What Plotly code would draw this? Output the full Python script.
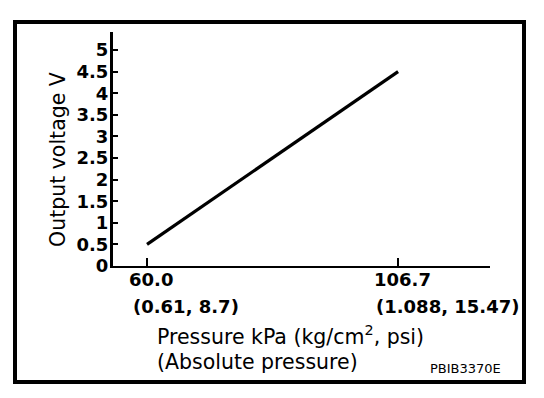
import plotly.graph_objects as go

# ---- data ----
pressure_kpa = [60.0, 106.7]
output_voltage = [0.5, 4.5]
y_ticks = [0, 0.5, 1, 1.5, 2, 2.5, 3, 3.5, 4, 4.5, 5]
y_tick_text = ["0", "0.5", "1", "1.5", "2", "2.5", "3", "3.5", "4", "4.5", "5"]
x_ticks = [60.0, 106.7]
x_label_line1 = ["60.0", "106.7"]
x_label_line2 = ["(0.61, 8.7)", "(1.088, 15.47)"]
y_title = "Output voltage V"
x_title_1 = "Pressure kPa (kg/cm<sup>2</sup>, psi)"
x_title_2 = "(Absolute pressure)"
code_text = "PBIB3370E"

# ---- layout geometry (pixels) ----
W, H = 544, 398
L, R, T, B = 113, 490, 32, 266
pw, ph = R - L, B - T


def px(x):
    return (x - L) / pw


def py(y):
    return (B - y) / ph


FONT = "DejaVu Sans"
BOLD = dict(family=FONT, size=18, color="black", weight="bold")
NORM = dict(family=FONT, size=20.5, color="black")

fig = go.Figure()
fig.add_trace(go.Scatter(
    x=pressure_kpa, y=output_voltage, mode="lines",
    line=dict(color="black", width=3.2), showlegend=False, hoverinfo="skip"))

fig.update_layout(
    width=W, height=H,
    margin=dict(l=L, r=W - R, t=T, b=H - B, pad=0),
    paper_bgcolor="white", plot_bgcolor="white",
    showlegend=False,
)
fig.update_xaxes(
    range=[53.67, 123.8], showgrid=False, zeroline=False,
    showline=True, linecolor="black", linewidth=1.5,
    tickvals=x_ticks, ticks="inside", ticklen=8, tickwidth=1.5, tickcolor="black",
    showticklabels=False, fixedrange=True,
)
fig.update_yaxes(
    range=[0, 5.417], showgrid=False, zeroline=False,
    showline=True, linecolor="black", linewidth=3,
    tickvals=y_ticks, ticktext=y_tick_text, ticks="inside", ticklen=5, tickwidth=2,
    tickcolor="black", tickfont=BOLD, ticklabelstandoff=-2, fixedrange=True,
)

# x tick labels (two lines, left-aligned like the reference)
line1_shift = [4, 4]
line2_shift = [-16, -24]
for xv, t1, t2, s1, s2 in zip(x_ticks, x_label_line1, x_label_line2, line1_shift, line2_shift):
    fig.add_annotation(x=xv, y=py(279), xref="x", yref="paper", text=t1,
                       showarrow=False, xanchor="center", yanchor="middle",
                       xshift=s1, font=BOLD)
    fig.add_annotation(x=xv, y=py(306), xref="x", yref="paper", text=t2,
                       showarrow=False, xanchor="left", yanchor="middle",
                       xshift=s2, font=BOLD)

# axis titles
fig.add_annotation(x=px(58), y=py(160), xref="paper", yref="paper", text=y_title,
                   textangle=-90, showarrow=False, xanchor="center", yanchor="middle",
                   font=NORM)
fig.add_annotation(x=px(155), y=py(335), xref="paper", yref="paper", text=x_title_1,
                   showarrow=False, xanchor="left", yanchor="middle", font=NORM)
fig.add_annotation(x=px(155), y=py(362), xref="paper", yref="paper", text=x_title_2,
                   showarrow=False, xanchor="left", yanchor="middle", font=NORM)
fig.add_annotation(x=px(428), y=py(368), xref="paper", yref="paper", text=code_text,
                   showarrow=False, xanchor="left", yanchor="middle",
                   font=dict(family=FONT, size=13, color="black"))

# outer frame
fig.add_shape(type="rect", xref="paper", yref="paper",
              x0=px(15), x1=px(524), y0=py(382), y1=py(22),
              line=dict(color="black", width=4), fillcolor="rgba(0,0,0,0)")

fig.write_html("out.html", config={"displayModeBar": False},
               post_script="document.body.style.margin='0';document.body.style.overflow='hidden';")
